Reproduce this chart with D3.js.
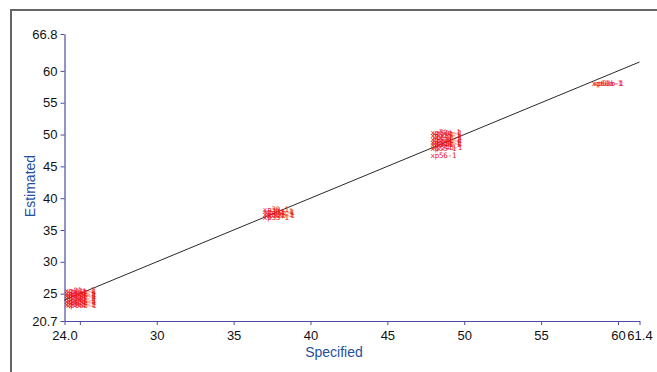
<!DOCTYPE html>
<html>
<head>
<meta charset="utf-8">
<script src="https://cdn.jsdelivr.net/npm/d3@7"></script>
<style>
  body { margin: 0; background: #fff; }
  svg { display: block; font-family: "Liberation Sans", Arial, sans-serif; }
</style>
</head>
<body>
<div id="chart"></div>
<script>
// axis ticks
const xTickValues = [24.0, 25, 30, 35, 40, 45, 50, 55, 60, 61.4];
const xTickLabels = ["24.0", "", "30", "35", "40", "45", "50", "55", "60", "61.4"];
const yTickValues = [20.7, 25, 30, 35, 40, 45, 50, 55, 60, 65.8];
const yTickLabels = ["20.7", "25", "30", "35", "40", "45", "50", "55", "60", "66.8"];

// reference line (specified == estimated)
const lineSpecified = [24.0, 61.4];
const lineEstimated = [24.0, 61.4];

// sample points, drawn as their labels
const pointLabels = [
  "xp01a-1", "xp01b-1", "xp02a-1", "xp02b-1", "xp03a-1", "xp03b-1", "xp04a-1", "xp04b-1", "xp05a-1", "xp05b-1", "xp06a-1", "xp06b-1",
  "xp30-1", "xp31a-1", "xp31b-1", "xp32a-1", "xp32b-1", "xp33-1",
  "xp50a-1", "xp50b-1", "xp51a-1", "xp51b-1", "xp52a-1", "xp52b-1", "xp53a-1", "xp53b-1", "xp54a-1", "xp54b-1", "xp55-1", "xp56-1",
  "xp60a-1", "xp60b-1"
];
const pointSpecified = [
  24.0, 24.1, 24.0, 24.1, 24.0, 24.1, 24.0, 24.1, 24.0, 24.1, 24.0, 24.1,
  36.9, 36.9, 37.0, 36.9, 37.0, 36.9,
  47.8, 47.9, 47.8, 47.9, 47.8, 47.9, 47.8, 47.9, 47.8, 47.9, 47.8, 47.8,
  58.3, 58.4
];
const pointEstimated = [
  25.5, 25.3, 25.1, 24.9, 24.7, 24.5, 24.2, 24.0, 23.8, 23.6, 23.3, 23.1,
  38.3, 37.9, 37.8, 37.5, 37.3, 37.0,
  50.4, 50.2, 49.8, 49.6, 49.3, 49.1, 48.8, 48.6, 48.4, 48.0, 47.9, 46.8,
  58.1, 58.0
];

const width = 657, height = 372;

const svg = d3.select('#chart')
  .append('svg')
  .attr('width', width)
  .attr('height', height);

// outer frame
svg.append('rect')
  .attr('x', 11)
  .attr('y', 10)
  .attr('width', width + 20)
  .attr('height', height + 20)
  .attr('fill', 'none')
  .attr('stroke', '#666')
  .attr('stroke-width', 2);

const x = d3.scaleLinear().domain([24.0, 61.4]).range([64.5, 639.5]);
const y = d3.scaleLinear().domain([20.7, 65.8]).range([321, 34]);

const axisColor = '#4b4ba6';

const xAxis = svg.append('g')
  .attr('transform', 'translate(0,321)')
  .call(d3.axisBottom(x)
    .tickValues(xTickValues)
    .tickSize(4)
    .tickSizeOuter(0)
    .tickFormat((d, i) => xTickLabels[i]));

const yAxis = svg.append('g')
  .attr('transform', 'translate(64.5,0)')
  .call(d3.axisLeft(y)
    .tickValues(yTickValues)
    .tickSize(4)
    .tickSizeOuter(0)
    .tickFormat((d, i) => yTickLabels[i]));

[xAxis, yAxis].forEach(g => {
  g.select('.domain').attr('stroke', axisColor).attr('stroke-width', 1.2);
  g.selectAll('.tick line').attr('stroke', axisColor);
  g.selectAll('.tick text')
    .attr('fill', '#111')
    .style('font-size', '13px')
    .style('font-family', '"Liberation Sans", Arial, sans-serif');
});
xAxis.selectAll('.tick text').attr('dy', '0.9em');
yAxis.selectAll('.tick text').attr('x', -7);

// axis titles
svg.append('text')
  .attr('x', 334)
  .attr('y', 357)
  .attr('text-anchor', 'middle')
  .attr('fill', '#1f4fa3')
  .style('font-size', '14px')
  .text('Specified');

svg.append('text')
  .attr('transform', 'translate(35,186) rotate(-90)')
  .attr('text-anchor', 'middle')
  .attr('fill', '#1f4fa3')
  .style('font-size', '14px')
  .text('Estimated');

// identity line
svg.append('path')
  .datum(d3.zip(lineSpecified, lineEstimated))
  .attr('d', d3.line().x(d => x(d[0])).y(d => y(d[1])))
  .attr('fill', 'none')
  .attr('stroke', '#111')
  .attr('stroke-width', 0.9);

// point labels
const points = pointLabels.map((label, i) => ({ label, sx: pointSpecified[i], est: pointEstimated[i] }));

svg.append('g')
  .selectAll('text')
  .data(points)
  .join('text')
  .attr('x', d => x(d.sx))
  .attr('y', d => y(d.est))
  .attr('dy', '0.35em')
  .attr('fill', '#ee1111')
  .style('font-size', '7.5px')
  .style('letter-spacing', '-0.2px')
  .style('font-family', '"DejaVu Sans Mono", monospace')
  .text(d => d.label);
</script>
</body>
</html>
